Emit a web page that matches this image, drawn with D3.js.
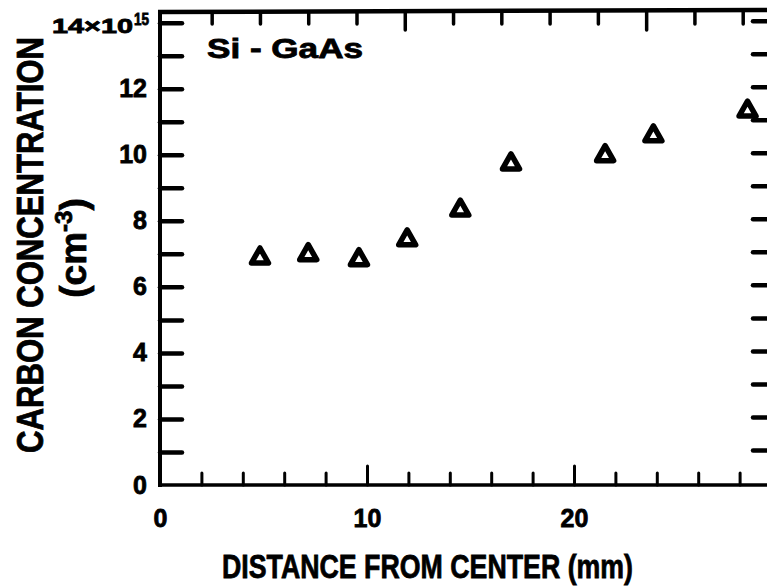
<!DOCTYPE html>
<html>
<head>
<meta charset="utf-8">
<script src="https://cdn.jsdelivr.net/npm/d3@7"></script>
<style>
	body { margin: 0; background: #fff; }
	svg text { font-family: "Liberation Sans", Arial, sans-serif; font-weight: bold; fill: #000; stroke: #000; stroke-width: 0.8; }
</style>
</head>
<body>
<script>
// carbon concentration vs distance from wafer center (Si - GaAs)
var distance = [4, 6, 8.1, 10.1, 12.3, 14.4, 18.3, 20.3, 24.2];
var carbon = [6.95, 7.05, 6.9, 7.5, 8.4, 9.8, 10.05, 10.65, 11.4];

var yLabelValues = [0, 2, 4, 6, 8, 10, 12];
var yTopLabel = "14\u00d710";
var yTopExponent = "15";
var xLabelValues = [0, 10, 20];
var seriesLabel = "Si - GaAs";
var xTitle = "DISTANCE FROM CENTER (mm)";
var yTitle = "CARBON CONCENTRATION";

var width = 767;
var height = 586;

var svg = d3.select("body").append("svg")
	.attr("width", width)
	.attr("height", height);

// y scale, 0 .. 14 (x10^15 cm-3)
var y = d3.scaleLinear().domain([0, 14]).range([485, 22.7]);
// the scanned figure has a top scale and a bottom scale that do not agree,
// the points sit on the top one
var xTop = d3.scaleLinear().domain([0, 24]).range([163.4, 742.7]);
var xBottom = d3.scaleLinear().domain([0, 20]).range([160, 574]);

var frameTop = 12;

// frame lines
svg.append("line").attr("x1", 160).attr("x2", 160).attr("y1", frameTop).attr("y2", 487)
	.attr("stroke", "#000").attr("stroke-width", 4);
svg.append("line").attr("x1", 158).attr("x2", width).attr("y1", frameTop).attr("y2", frameTop - 2)
	.attr("stroke", "#000").attr("stroke-width", 4.5);
svg.append("line").attr("x1", 158).attr("x2", width).attr("y1", 485).attr("y2", 485)
	.attr("stroke", "#000").attr("stroke-width", 3.5);

function cleanAxis(g, w) {
	g.select(".domain").remove();
	g.selectAll(".tick line").attr("stroke", "#000").attr("stroke-width", w).attr("stroke-linecap", "round");
}

// left ticks (inward)
svg.append("g")
	.attr("transform", "translate(160,0)")
	.call(d3.axisLeft(y).tickValues(d3.range(1, 15)).tickSize(-22).tickFormat(""))
	.call(cleanAxis, 4.5);

// right ticks (the right frame line is cut off the picture)
svg.append("g")
	.attr("transform", "translate(" + (width + 8) + ",-2)")
	.call(d3.axisRight(y).tickValues(d3.range(1, 15)).tickSize(-22).tickFormat(""))
	.call(cleanAxis, 4.5);

// left labels
var yLab = svg.append("g")
	.attr("transform", "translate(160,0)")
	.call(d3.axisLeft(y).tickValues(yLabelValues).tickSize(0).tickPadding(13));
yLab.select(".domain").remove();
yLab.selectAll("text").attr("font-size", 25).attr("font-family", null).attr("fill", null);

// 14x10^15 top label
svg.append("text")
	.attr("x", 52).attr("y", 33)
	.attr("font-size", 21)
	.attr("textLength", 81).attr("lengthAdjust", "spacingAndGlyphs")
	.text(yTopLabel);
svg.append("text")
	.attr("x", 134).attr("y", 25)
	.attr("font-size", 16)
	.attr("textLength", 15).attr("lengthAdjust", "spacingAndGlyphs")
	.text(yTopExponent);

// bottom ticks (inward), longer at 10 and 20
var bottomTicks = svg.append("g")
	.attr("transform", "translate(0,485)")
	.call(d3.axisBottom(xBottom).tickValues(d3.range(2, 29, 2)).tickSize(-12).tickFormat(""))
	.call(cleanAxis, 3);
bottomTicks.selectAll(".tick line")
	.attr("y2", function (d) { return d % 10 === 0 ? -19 : -12; });

// top ticks (inward), longer at 10 and 20
var topTicks = svg.append("g")
	.attr("transform", "translate(0," + frameTop + ")")
	.call(d3.axisTop(xTop).tickValues(d3.range(2, 25, 2)).tickSize(-12).tickFormat(""))
	.call(cleanAxis, 3.5);
topTicks.selectAll(".tick line")
	.attr("y2", function (d) { return d % 10 === 0 ? 18 : 12; });

// bottom labels
var xLab = svg.append("g")
	.attr("transform", "translate(0,485)")
	.call(d3.axisBottom(xBottom).tickValues(xLabelValues).tickSize(0).tickPadding(24));
xLab.select(".domain").remove();
xLab.selectAll("text").attr("font-size", 25).attr("font-family", null).attr("fill", null);

// axis titles
svg.append("text")
	.attr("x", 427.5).attr("y", 578)
	.attr("text-anchor", "middle")
	.attr("font-size", 34)
	.attr("stroke-width", 1.2)
	.attr("textLength", 411).attr("lengthAdjust", "spacingAndGlyphs")
	.text(xTitle);

svg.append("text")
	.attr("transform", "translate(43,245) rotate(-90)")
	.attr("text-anchor", "middle")
	.attr("font-size", 36)
	.attr("stroke-width", 1.2)
	.attr("textLength", 416).attr("lengthAdjust", "spacingAndGlyphs")
	.text(yTitle);

var unit = svg.append("text")
	.attr("transform", "translate(86,248) rotate(-90)")
	.attr("text-anchor", "middle")
	.attr("font-size", 37)
	.attr("stroke-width", 1);
unit.append("tspan").text("(cm");
unit.append("tspan").attr("font-size", 24).attr("dy", -14).text("-3");
unit.append("tspan").attr("dy", 14).text(")");

// series label
svg.append("text")
	.attr("x", 207).attr("y", 58)
	.attr("font-size", 27)
	.attr("stroke-width", 1)
	.attr("textLength", 156).attr("lengthAdjust", "spacingAndGlyphs")
	.text(seriesLabel);

// hollow triangle markers
var points = distance.map(function (d, i) { return { x: d, c: carbon[i] }; });
var tri = "M0,-7.5L8.5,7.5L-8.5,7.5Z";
svg.append("g").selectAll("path")
	.data(points)
	.join("path")
	.attr("transform", function (d) { return "translate(" + xTop(d.x) + "," + y(d.c) + ")"; })
	.attr("d", tri)
	.attr("fill", "#fff")
	.attr("stroke", "#000")
	.attr("stroke-width", 5.5)
	.attr("stroke-linejoin", "round");
</script>
</body>
</html>
